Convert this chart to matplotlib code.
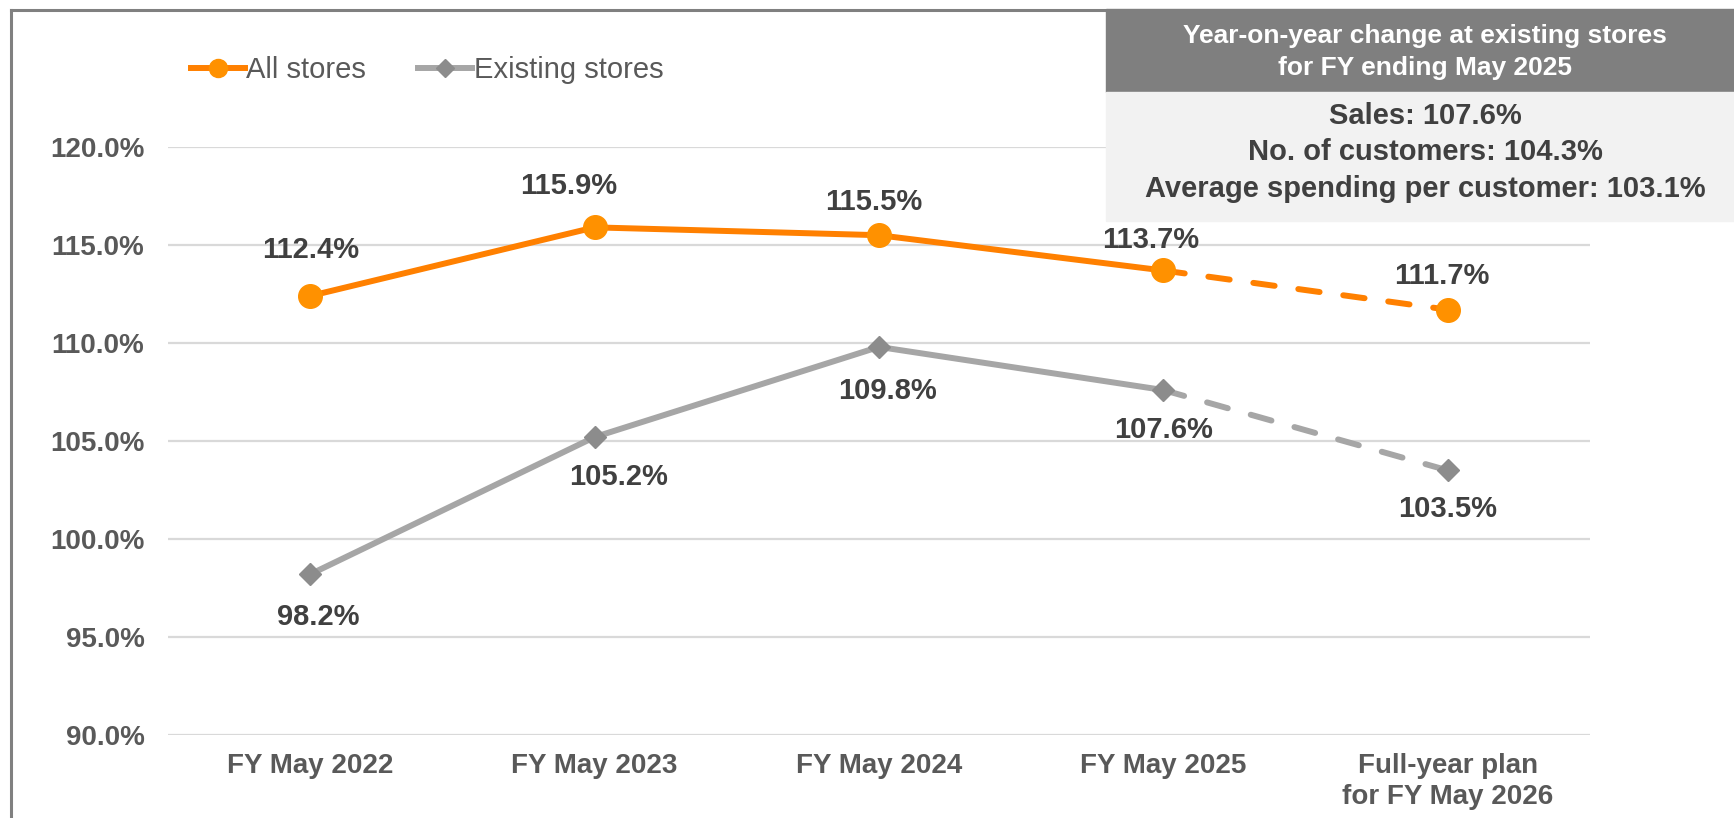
import matplotlib.pyplot as plt
from matplotlib.patches import Rectangle
from matplotlib.lines import Line2D

plt.rcParams['font.family'] = ['Liberation Sans', 'DejaVu Sans']

# data
categories = ['FY May 2022', 'FY May 2023', 'FY May 2024', 'FY May 2025',
              'Full-year plan\nfor FY May 2026']
all_stores = [112.4, 115.9, 115.5, 113.7, 111.7]
existing_stores = [98.2, 105.2, 109.8, 107.6, 103.5]
box_title = 'Year-on-year change at existing stores\nfor FY ending May 2025'
box_lines = ['Sales: 107.6%', 'No. of customers: 104.3%',
             'Average spending per customer: 103.1%']

orange = '#ff8000'
orange_mk = '#ff9100'
gray = '#a6a6a6'
gray_mk = '#8c8c8c'
txt = '#404040'
tick_c = '#595959'

W, H = 1734, 818
fig = plt.figure(figsize=(W / 100, H / 100), dpi=100)
ax = fig.add_axes([168 / W, (H - 735) / H, (1590 - 168) / W, (735 - 147) / H])

x = list(range(len(categories)))
n = len(x) - 1  # last point is the plan -> dashed
lw = 4.3
dash = (0, (3.6, 4.0))

ax.plot(x[:n], all_stores[:n], color=orange, lw=lw, marker='o', ms=17,
        mfc=orange_mk, mec=orange_mk, zorder=4, solid_capstyle='round')
ax.plot(x[n - 1:], all_stores[n - 1:], color=orange, lw=lw, ls=dash,
        zorder=3, dash_capstyle='round')
ax.plot(x[n:], all_stores[n:], ls='none', marker='o', ms=17,
        mfc=orange_mk, mec=orange_mk, zorder=4)

ax.plot(x[:n], existing_stores[:n], color=gray, lw=lw, marker='D', ms=11,
        mfc=gray_mk, mec=gray_mk, zorder=4, solid_capstyle='round')
ax.plot(x[n - 1:], existing_stores[n - 1:], color=gray, lw=lw, ls=dash,
        zorder=3, dash_capstyle='round')
ax.plot(x[n:], existing_stores[n:], ls='none', marker='D', ms=11,
        mfc=gray_mk, mec=gray_mk, zorder=4)

# data labels (offsets in points, as placed in the original)
up_dx = [0, -19, -4, -9, -4]
up_dy = [33, 30, 24, 22, 24]
dn_dx = [6, 17, 6, 0, 0]
dn_dy = [-31, -29, -32, -29, -28]
for xi, v, dx, dy in zip(x, all_stores, up_dx, up_dy):
    ax.annotate('%.1f%%' % v, (xi, v), xytext=(dx, dy), textcoords='offset points',
                ha='center', va='center', fontsize=21, fontweight='bold', color=txt)
for xi, v, dx, dy in zip(x, existing_stores, dn_dx, dn_dy):
    ax.annotate('%.1f%%' % v, (xi, v), xytext=(dx, dy), textcoords='offset points',
                ha='center', va='center', fontsize=21, fontweight='bold', color=txt)

ax.set_xlim(-0.5, 4.5)
ax.set_ylim(90, 120)
ax.set_yticks([90, 95, 100, 105, 110, 115, 120])
ax.set_yticklabels(['%.1f%%' % t for t in ax.get_yticks()])
ax.set_xticks(x)
ax.set_xticklabels(categories)
ax.tick_params(length=0, labelsize=20, labelcolor=tick_c)
ax.tick_params(axis='y', pad=17)
ax.tick_params(axis='x', pad=13)
for lab in ax.get_xticklabels() + ax.get_yticklabels():
    lab.set_fontweight('bold')
    lab.set_linespacing(1.25)
ax.yaxis.grid(True, color='#d9d9d9', lw=1.6)
ax.set_axisbelow(True)
for s in ax.spines.values():
    s.set_visible(False)

# legend
handles = [Line2D([], [], color=orange, lw=lw, marker='o', ms=13, mfc=orange_mk, mec=orange_mk),
           Line2D([], [], color=gray, lw=lw, marker='D', ms=9, mfc=gray_mk, mec=gray_mk)]
fig.legend(handles, ['All stores', 'Existing stores'], loc='center left',
           bbox_to_anchor=(176 / W, (H - 70) / H), ncol=2, frameon=False,
           fontsize=21, labelcolor=tick_c, handlelength=1.85, handletextpad=0.05,
           columnspacing=1.8, borderpad=0)

# info box
fig.add_artist(Rectangle((1106 / W, (H - 92) / H), (W - 1106) / W, 83 / H,
                         transform=fig.transFigure, color='#7f7f7f', zorder=5))
fig.add_artist(Rectangle((1106 / W, (H - 221) / H), (W - 1106) / W, 129 / H,
                         transform=fig.transFigure, color='#f2f2f2', zorder=5))
fig.text(1425 / W, (H - 52) / H, box_title, ha='center', va='center',
         fontsize=19, fontweight='bold', color='white', linespacing=1.45, zorder=6)
for i, t in enumerate(box_lines):
    fig.text(1425 / W, (H - 116 - i * 36.5) / H, t, ha='center', va='center',
             fontsize=21, fontweight='bold', color=txt, zorder=6)

# outer frame (left and top edges)
fig.add_artist(Line2D([11 / W, 11 / W], [0, (H - 10) / H], transform=fig.transFigure,
                      color='#808080', lw=2.2))
fig.add_artist(Line2D([11 / W, 1106 / W], [(H - 10) / H, (H - 10) / H],
                      transform=fig.transFigure, color='#808080', lw=2.2))

fig.savefig('out.png', dpi=100)
